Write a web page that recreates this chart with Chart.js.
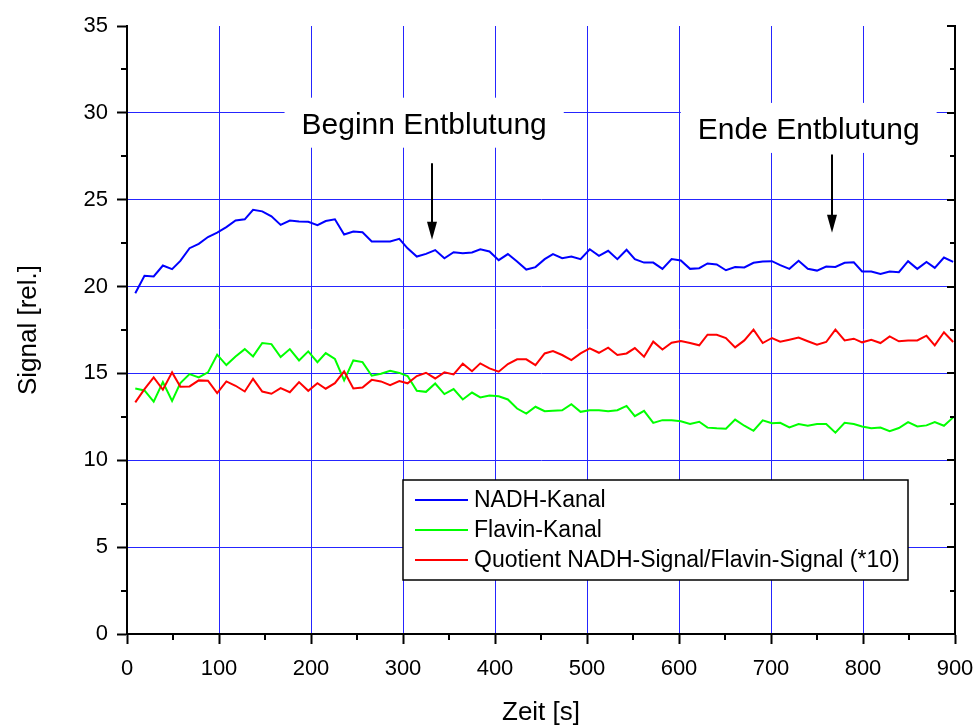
<!DOCTYPE html>
<html lang="de">
<head>
<meta charset="utf-8">
<title>Signal</title>
<script src="https://cdn.jsdelivr.net/npm/chart.js@4.4.1/dist/chart.umd.min.js"></script>
<style>
  html, body { margin: 0; padding: 0; background: #fff; }
  #wrap { width: 974px; height: 728px; }
</style>
</head>
<body>
<div id="wrap"><canvas id="signalChart" width="974" height="728"></canvas></div>
<script>
// Messzeitpunkte [s]
const times = [
  9, 19, 29, 39, 49, 58, 68, 78, 88, 98,
  108, 118, 128, 137, 147, 157, 167, 177, 187, 197,
  207, 216, 226, 236, 246, 256, 266, 276, 286, 296,
  305, 315, 325, 335, 345, 355, 365, 375, 384, 394,
  404, 414, 424, 434, 444, 454, 463, 473, 483, 493,
  503, 513, 523, 533, 543, 552, 562, 572, 582, 592,
  602, 612, 622, 631, 641, 651, 661, 671, 681, 691,
  701, 710, 720, 730, 740, 750, 760, 770, 780, 790,
  799, 809, 819, 829, 839, 849, 859, 869, 878, 888,
  898
];

const nadh = [
  19.62, 20.62, 20.58, 21.21, 21.0, 21.48, 22.21, 22.46, 22.85, 23.1,
  23.42, 23.8, 23.87, 24.42, 24.33, 24.04, 23.55, 23.8, 23.75, 23.73,
  23.54, 23.77, 23.87, 23.0, 23.17, 23.13, 22.6, 22.6, 22.6, 22.75,
  22.2, 21.73, 21.88, 22.1, 21.63, 21.98, 21.92, 21.96, 22.15, 22.02,
  21.52, 21.87, 21.44, 20.98, 21.12, 21.58, 21.87, 21.63, 21.73, 21.58,
  22.15, 21.77, 22.06, 21.58, 22.12, 21.58, 21.38, 21.38, 21.02, 21.58,
  21.5, 21.02, 21.06, 21.33, 21.27, 20.94, 21.12, 21.1, 21.37, 21.44,
  21.46, 21.23, 21.02, 21.48, 21.02, 20.92, 21.15, 21.13, 21.37, 21.4,
  20.87, 20.87, 20.73, 20.87, 20.83, 21.46, 21.02, 21.42, 21.08, 21.67,
  21.42
];

const flavin = [
  14.13, 14.02, 13.38, 14.5, 13.42, 14.44, 14.96, 14.77, 15.06, 16.08,
  15.48, 15.98, 16.4, 15.98, 16.75, 16.69, 15.94, 16.4, 15.75, 16.27,
  15.65, 16.17, 15.83, 14.6, 15.75, 15.65, 14.87, 14.98, 15.15, 15.03,
  14.85, 14.0, 13.94, 14.42, 13.81, 14.1, 13.5, 13.9, 13.62, 13.73,
  13.69, 13.5, 12.98, 12.69, 13.08, 12.83, 12.85, 12.88, 13.23, 12.79,
  12.88, 12.88, 12.83, 12.88, 13.13, 12.54, 12.85, 12.15, 12.31, 12.31,
  12.25, 12.09, 12.22, 11.88, 11.84, 11.82, 12.34, 11.99, 11.7, 12.3,
  12.13, 12.16, 11.89, 12.09, 11.99, 12.09, 12.09, 11.59, 12.16, 12.09,
  11.95, 11.84, 11.89, 11.68, 11.86, 12.2, 11.95, 12.01, 12.2, 11.99,
  12.47
];

const quotient = [
  13.33, 14.1, 14.77, 14.06, 15.06, 14.23, 14.25, 14.6, 14.58, 13.87,
  14.54, 14.29, 13.96, 14.69, 13.96, 13.83, 14.15, 13.92, 14.5, 14.0,
  14.44, 14.12, 14.44, 15.12, 14.13, 14.19, 14.63, 14.54, 14.33, 14.56,
  14.43, 14.85, 15.04, 14.71, 15.06, 14.94, 15.56, 15.13, 15.58, 15.29,
  15.1, 15.54, 15.81, 15.81, 15.48, 16.15, 16.29, 16.06, 15.77, 16.15,
  16.44, 16.19, 16.48, 16.06, 16.15, 16.46, 15.96, 16.83, 16.38, 16.77,
  16.86, 16.75, 16.62, 17.23, 17.23, 17.04, 16.5, 16.9, 17.52, 16.75,
  17.04, 16.83, 16.94, 17.06, 16.85, 16.65, 16.81, 17.52, 16.9, 17.0,
  16.79, 16.94, 16.75, 17.13, 16.85, 16.9, 16.9, 17.17, 16.62, 17.37,
  16.81
];

const seriesLabels = ['NADH-Kanal', 'Flavin-Kanal', 'Quotient NADH-Signal/Flavin-Signal (*10)'];
const seriesColors = ['#0000ff', '#00ff00', '#ff0000'];

// Beschriftungen mit Pfeil (x in s, y in Signaleinheiten)
const markers = [
  { text: 'Beginn Entblutung', textX: 323, textY: 28.8, arrowX: 331, from: 27.1, to: 22.7 },
  { text: 'Ende Entblutung', textX: 741, textY: 28.5, arrowX: 766, from: 27.6, to: 23.1 }
];

const FONT = "'Liberation Sans', Arial, sans-serif";
const GRID = '#2525ff';
Chart.defaults.font.family = FONT;
Chart.defaults.color = '#000';

const toPoints = vals => vals.map((v, i) => ({ x: times[i], y: v }));

// rechte Achse, Nebenteilstriche, Pfeile und Legende
const extras = {
  id: 'extras',
  afterDraw(chart) {
    const { ctx, chartArea: a, scales: { x, y } } = chart;
    ctx.save();

    ctx.strokeStyle = '#000';
    ctx.lineWidth = 2;
    ctx.beginPath();
    ctx.moveTo(a.right, a.top - 1);
    ctx.lineTo(a.right, a.bottom + 1);
    ctx.stroke();

    ctx.beginPath();
    for (let v = 0; v <= 35; v += 2.5) {
      const py = Math.round(y.getPixelForValue(v));
      const major = v % 5 === 0;
      if (!major) {
        ctx.moveTo(a.left, py);
        ctx.lineTo(a.left - 6, py);
      }
      ctx.moveTo(a.right, py);
      ctx.lineTo(a.right - (major ? 8 : 5), py);
    }
    for (let v = 50; v < 900; v += 100) {
      const px = Math.round(x.getPixelForValue(v));
      ctx.moveTo(px, a.bottom);
      ctx.lineTo(px, a.bottom + 6);
    }
    ctx.stroke();

    // Beginn / Ende
    ctx.font = '30px ' + FONT;
    ctx.textAlign = 'center';
    ctx.textBaseline = 'alphabetic';
    markers.forEach(m => {
      const tx = x.getPixelForValue(m.textX);
      const ty = y.getPixelForValue(m.textY);
      const w = ctx.measureText(m.text).width;
      ctx.fillStyle = '#fff';
      ctx.fillRect(tx - w / 2 - 17, ty - 36, w + 34, 50);
      ctx.fillStyle = '#000';
      ctx.fillText(m.text, tx, ty);

      const ax = Math.round(x.getPixelForValue(m.arrowX));
      const y0 = y.getPixelForValue(m.from);
      const y1 = y.getPixelForValue(m.to);
      ctx.strokeStyle = '#000';
      ctx.lineWidth = 2;
      ctx.beginPath();
      ctx.moveTo(ax, y0);
      ctx.lineTo(ax, y1 - 10);
      ctx.stroke();
      ctx.beginPath();
      ctx.moveTo(ax - 5, y1 - 18);
      ctx.lineTo(ax + 5, y1 - 18);
      ctx.lineTo(ax, y1);
      ctx.closePath();
      ctx.fill();
    });

    // Legende
    const lx = a.right - 552, ly = a.bottom - 154;
    ctx.fillStyle = '#fff';
    ctx.fillRect(lx, ly, 505, 100);
    ctx.strokeStyle = '#000';
    ctx.lineWidth = 1.5;
    ctx.strokeRect(lx, ly, 505, 100);
    ctx.font = '23px ' + FONT;
    ctx.textAlign = 'left';
    ctx.textBaseline = 'middle';
    chart.data.datasets.forEach((ds, i) => {
      const ry = ly + 20 + i * 30;
      ctx.strokeStyle = ds.borderColor;
      ctx.lineWidth = 2;
      ctx.beginPath();
      ctx.moveTo(lx + 12, ry);
      ctx.lineTo(lx + 65, ry);
      ctx.stroke();
      ctx.fillStyle = '#000';
      ctx.fillText(ds.label, lx + 71, ry + 1);
    });

    ctx.restore();
  }
};

const datasets = [nadh, flavin, quotient].map((vals, i) => ({
  label: seriesLabels[i],
  data: toPoints(vals),
  borderColor: seriesColors[i],
  backgroundColor: seriesColors[i],
  borderWidth: 2,
  pointRadius: 0,
  tension: 0,
  order: 2 - i
}));

new Chart(document.getElementById('signalChart'), {
  type: 'line',
  data: { datasets },
  options: {
    responsive: false,
    animation: false,
    events: [],
    layout: { padding: { left: 0, right: 19, top: 26, bottom: 0 } },
    plugins: {
      legend: { display: false },
      tooltip: { enabled: false }
    },
    scales: {
      x: {
        type: 'linear',
        min: 0,
        max: 900,
        ticks: { stepSize: 100, font: { size: 22 }, padding: 12, maxRotation: 0 },
        grid: { color: GRID, lineWidth: 1, tickColor: '#000', tickLength: 10, tickWidth: 2 },
        border: { color: '#000', width: 2 },
        title: { display: true, text: 'Zeit [s]', font: { size: 26 }, padding: { top: 4, bottom: 0 } },
        afterFit: s => {
          s.height = 94;
          s.paddingLeft = 0;
          s.paddingRight = 0;
        }
      },
      y: {
        min: 0,
        max: 35,
        ticks: { stepSize: 5, font: { size: 22 }, padding: 9 },
        grid: {
          color: c => c.tick && c.tick.value === 35 ? 'rgba(0,0,0,0)' : GRID,
          lineWidth: 1,
          tickColor: '#000',
          tickLength: 10,
          tickWidth: 2
        },
        border: { color: '#000', width: 2 },
        title: { display: true, text: 'Signal [rel.]', font: { size: 26 }, padding: { top: 13, bottom: 0 } },
        afterFit: s => {
          s.width = 127;
          s.paddingTop = 0;
          s.paddingBottom = 0;
        }
      }
    }
  },
  plugins: [extras]
});
</script>
</body>
</html>
